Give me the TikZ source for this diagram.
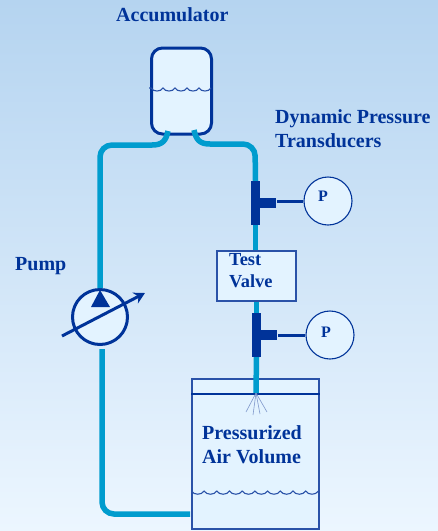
\documentclass[tikz,border=0pt]{standalone}
\usepackage{fontspec}
\setmainfont{Liberation Serif}
\usetikzlibrary{arrows.meta}
\definecolor{navy}{HTML}{003399}
\definecolor{pipeblue}{HTML}{009CCE}
\definecolor{paleblue}{HTML}{E3F3FF}
\definecolor{tankline}{HTML}{2A52A8}
\definecolor{skytop}{HTML}{B5D4F0}
\definecolor{skybottom}{HTML}{ECF6FF}
\tikzset{
  label/.style = {text=navy, font=\fontsize{20}{24}\selectfont\bfseries, inner sep=0pt, align=left},
  pipe/.style = {draw=pipeblue, line width=5.5pt},
  wave/.style = {draw=tankline, line width=1.1pt},
  gauge/.style = {circle, draw=navy, fill=paleblue, line width=1.1pt, minimum size=48pt, inner sep=0pt},
  gaugetext/.style = {text=navy, font=\fontsize{16}{18}\selectfont\bfseries, inner sep=0pt},
  tee/.style = {fill=navy, minimum width=9pt, minimum height=44pt, inner sep=0pt},
  stub/.style = {fill=navy, minimum width=16pt, minimum height=10pt, inner sep=0pt},
  box/.style = {draw=tankline, fill=paleblue, line width=1.2pt, inner sep=0pt},
}
\begin{document}
\begin{tikzpicture}[x=1pt, y=-1pt]
  \useasboundingbox (0,0) rectangle (438,531);
  \shade[top color=skytop, bottom color=skybottom] (0,0) rectangle (438,531);

  \node[label, anchor=base west] (acclabel) at (116,21) {Accumulator};
  \node[label, anchor=west] (dynlabel) at (275,129) {Dynamic Pressure\\Transducers};
  \node[label, anchor=base west] (pumplabel) at (15,270) {Pump};

  % accumulator
  \node[draw=navy, fill=paleblue, line width=3pt, rounded corners=11pt, minimum width=60pt,
    minimum height=86pt, inner sep=0pt] (acc) at (181.5,91) {};
  \draw[wave] (149,88) -- (151,88) \foreach \i in {1,...,5} { to[bend right=60] ++(12,0) };
  \coordinate (accleft) at (168,131);
  \coordinate (accright) at (194,130);
  \coordinate (leftbend) at (152,145);
  \coordinate (rightbend) at (210,144);

  % pump
  \node[circle, draw=navy, fill=paleblue, line width=3pt, minimum size=55pt, inner sep=0pt] (pump) at (100,317) {};
  \fill[navy] (100,290) -- (110,307) -- (91,307) -- cycle;
  \coordinate (adjstart) at (62,336);
  \coordinate (adjend) at (145,293);
  \draw[navy, line width=3pt, -{Stealth[length=11pt, width=12pt]}] (adjstart) -- (adjend);

  % transducers and valve
  \node[tee] (teeone) at (255.5,203) {};
  \node[stub, anchor=west] (stubone) at (teeone.east) {};
  \node[gauge] (gaugeone) at (328,201) {};
  \node[gaugetext] (pone) at (323,196) {P};
  \draw[navy, line width=3pt] (gaugeone.west) -- (gaugeone.west -| stubone.east);
  \node[box, minimum width=79pt, minimum height=50pt] (valve) at (256.5,276) {};
  \node[label, font=\fontsize{18.4}{22}\selectfont\bfseries, anchor=west] (valvelabel) at (229,270.5) {Test\\Valve};
  \node[tee] (teetwo) at (256.5,335) {};
  \node[stub, anchor=west] (stubtwo) at (teetwo.east) {};
  \node[gauge] (gaugetwo) at (330,335) {};
  \node[gaugetext] (ptwo) at (326,332) {P};
  \draw[navy, line width=3pt] (gaugetwo.west) -- (stubtwo.east);

  % tank
  \node[box, minimum width=127pt, minimum height=150pt] (tank) at (255.5,454) {};
  \draw[navy, line width=2pt] (tank.north west |- 0,394) -- (tank.north east |- 0,394);
  \node[label, anchor=west] (tanklabel) at (202,445) {Pressurized\\Air Volume};
  \draw[wave] (tank.west |- 0,491) \foreach \i in {1,...,10} { to[bend right=60] ++(12.7,0) };
  \coordinate (nozzle) at (256,393);
  \foreach \tip in {(246,412),(253,415),(260,414),(267,412)}
    \draw[tankline!60, line width=0.6pt] (nozzle) -- \tip;

  % pipes
  \draw[pipe] (accright) .. controls (196,140) and (200,144) .. (rightbend);
  \draw[pipe, rounded corners=12pt] (rightbend) -- (255,144) -- (teeone.north);
  \draw[pipe] (accleft) .. controls (166,141) and (162,145) .. (leftbend);
  \draw[pipe, rounded corners=12pt] (leftbend) -- (100,145) -- (pump.north);
  \draw[pipe] (teeone.south) -- (teeone.south |- valve.north);
  \draw[pipe] (teetwo.north) -- (teetwo.north |- valve.south);
  \draw[pipe] (teetwo.south) -- (nozzle);
  \draw[pipe, rounded corners=12pt] ([xshift=2pt, yshift=-3pt]pump.south) -- (102,514) -- (190,514);
\end{tikzpicture}
\end{document}
